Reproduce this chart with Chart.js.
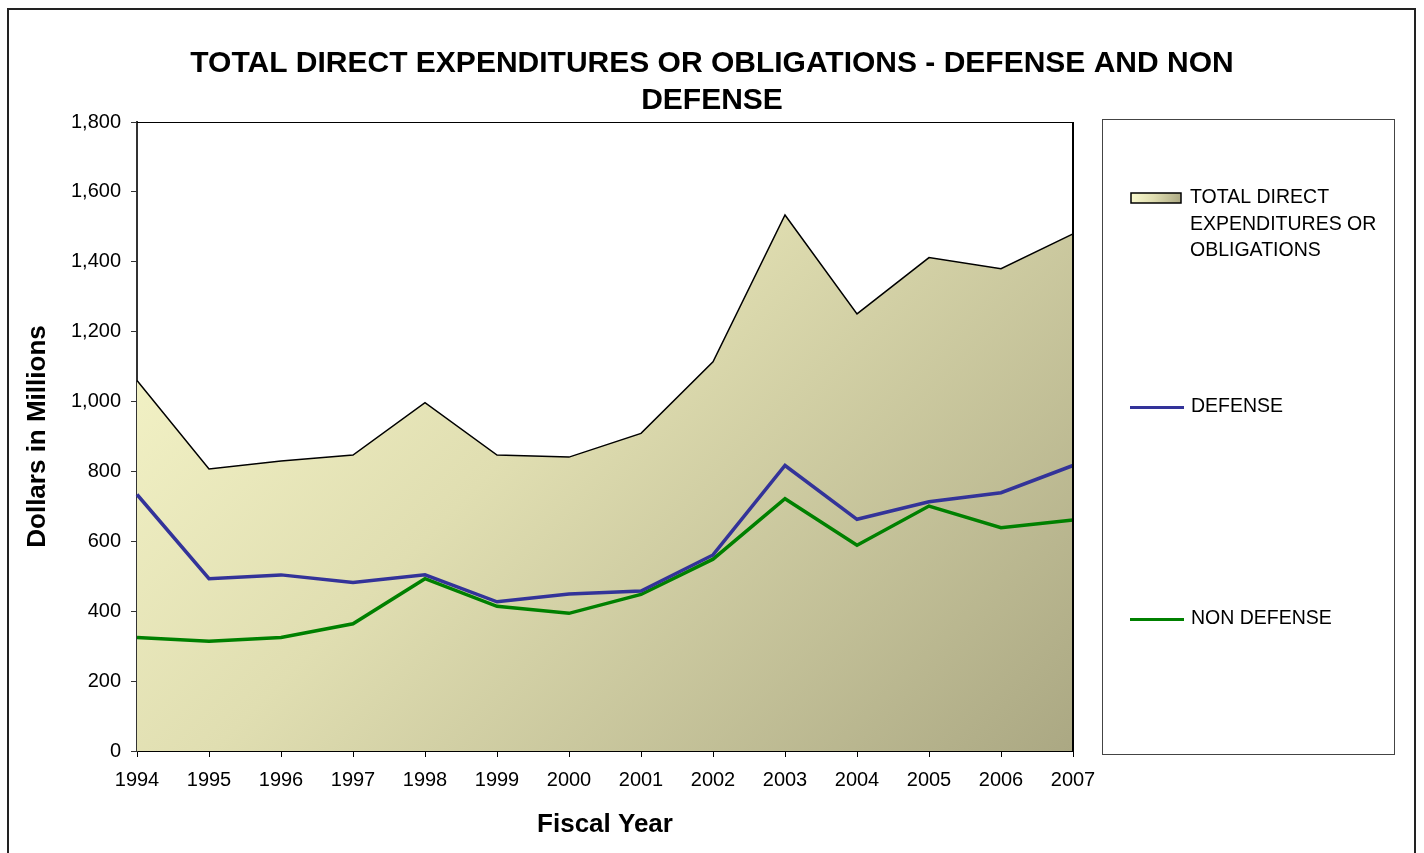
<!DOCTYPE html>
<html>
<head>
<meta charset="utf-8">
<script src="https://cdn.jsdelivr.net/npm/chart.js@4"></script>
<style>
  html, body { margin: 0; padding: 0; background: #fff; }
  #wrap { width: 1424px; height: 853px; }
</style>
</head>
<body>
<div id="wrap"><canvas id="chart" width="1424" height="853"></canvas></div>
<script>
const years = ['1994', '1995', '1996', '1997', '1998', '1999', '2000', '2001', '2002', '2003', '2004', '2005', '2006', '2007'];
const totalValues = [1060, 807, 830, 847, 997, 847, 841, 909, 1114, 1534, 1251, 1412, 1380, 1480];
const defenseValues = [734, 493, 504, 482, 504, 427, 449, 458, 561, 817, 663, 713, 739, 817];
const nonDefenseValues = [325, 314, 325, 364, 493, 414, 394, 448, 549, 722, 589, 701, 639, 661];
const seriesNames = ['TOTAL DIRECT EXPENDITURES OR OBLIGATIONS', 'DEFENSE', 'NON DEFENSE'];
const titleLines = ['TOTAL DIRECT EXPENDITURES OR OBLIGATIONS - DEFENSE AND NON', 'DEFENSE'];

const FONT = '"Liberation Sans", Arial, sans-serif';

function olive(ctx, x0, y0, x1, y1) {
    const g = ctx.createLinearGradient(x0, y0, x1, y1);
    g.addColorStop(0, '#fbfbcf');
    g.addColorStop(0.45, '#e0deb1');
    g.addColorStop(1, '#aba883');
    return g;
}

// outer frame, title, plot frame
const framePlugin = {
    id: 'frame',
    beforeDraw(chart) {
        const c = chart.ctx;
        c.save();
        c.strokeStyle = '#222';
        c.lineWidth = 2;
        c.strokeRect(8, 9, 1407, 860);
        c.fillStyle = '#000';
        c.font = 'bold 30px ' + FONT;
        c.textAlign = 'center';
        c.textBaseline = 'middle';
        titleLines.forEach((t, i) => c.fillText(t, 712, 64 + i * 37));
        c.restore();
    },
    afterDatasetsDraw(chart) {
        const a = chart.chartArea;
        const c = chart.ctx;
        c.save();
        c.strokeStyle = '#000';
        c.lineWidth = 1;
        c.beginPath();
        c.moveTo(a.left, a.top + 0.5);
        c.lineTo(a.right, a.top + 0.5);
        c.stroke();
        c.lineWidth = 2;
        c.beginPath();
        c.moveTo(a.right, a.top);
        c.lineTo(a.right, a.bottom);
        c.stroke();
        c.restore();
    }
};

// legend drawn in its own box on the right
const boxLegend = {
    id: 'boxLegend',
    afterDraw(chart) {
        const c = chart.ctx;
        c.save();
        c.strokeStyle = '#444';
        c.lineWidth = 1;
        c.strokeRect(1102.5, 119.5, 292, 635);
        c.font = '19.5px ' + FONT;
        c.fillStyle = '#000';
        c.textBaseline = 'middle';

        // total swatch
        c.fillStyle = olive(c, 1131, 193, 1181, 203);
        c.fillRect(1131, 193, 50, 10);
        c.strokeStyle = '#000';
        c.lineWidth = 1.5;
        c.strokeRect(1131, 193, 50, 10);
        c.fillStyle = '#000';
        ['TOTAL DIRECT', 'EXPENDITURES OR', 'OBLIGATIONS'].forEach((t, i) => {
            c.fillText(t, 1190, 198 + i * 26.5);
        });

        c.lineWidth = 3;
        c.strokeStyle = '#333399';
        c.beginPath(); c.moveTo(1130, 407.5); c.lineTo(1184, 407.5); c.stroke();
        c.fillText(seriesNames[1], 1191, 407);

        c.strokeStyle = '#008000';
        c.beginPath(); c.moveTo(1130, 619.5); c.lineTo(1184, 619.5); c.stroke();
        c.fillText(seriesNames[2], 1191, 619);
        c.restore();
    }
};

const ctx = document.getElementById('chart').getContext('2d');
new Chart(ctx, {
    type: 'line',
    data: {
        labels: years,
        datasets: [
            {
                label: seriesNames[1],
                data: defenseValues,
                borderColor: '#333399',
                borderWidth: 3.5,
                pointRadius: 0,
                fill: false,
                tension: 0,
                order: 1
            },
            {
                label: seriesNames[2],
                data: nonDefenseValues,
                borderColor: '#008000',
                borderWidth: 3.5,
                pointRadius: 0,
                fill: false,
                tension: 0,
                order: 2
            },
            {
                label: seriesNames[0],
                data: totalValues,
                borderColor: '#000',
                borderWidth: 1.5,
                pointRadius: 0,
                fill: 'origin',
                tension: 0,
                order: 3,
                backgroundColor: (context) => {
                    const a = context.chart.chartArea;
                    if (!a) return '#e0deb1';
                    // 45 degree gradient across the plot area
                    const d = (a.width + a.height) / 2;
                    return olive(context.chart.ctx, a.left, a.top, a.left + d, a.top + d);
                }
            }
        ]
    },
    options: {
        responsive: false,
        animation: false,
        layout: { padding: { left: 0, right: 351, top: 122, bottom: 0 } },
        plugins: {
            legend: { display: false },
            tooltip: { enabled: false },
            title: { display: false }
        },
        scales: {
            x: {
                offset: false,
                grid: { display: true, drawOnChartArea: false, drawTicks: true, tickLength: 6, color: '#000' },
                border: { display: true, color: '#000', width: 2 },
                ticks: { color: '#000', font: { family: FONT, size: 20 }, padding: 11, maxRotation: 0, autoSkip: false },
                title: {
                    display: true,
                    text: 'Fiscal Year',
                    color: '#000',
                    font: { family: FONT, size: 26, weight: 'bold', lineHeight: 1.2 },
                    padding: { top: 0, bottom: 13 }
                },
                afterFit(scale) { scale.height = 102; }
            },
            y: {
                min: 0,
                max: 1800,
                grid: { display: true, drawOnChartArea: false, drawTicks: true, tickLength: 6, color: '#333' },
                border: { display: true, color: '#333', width: 2 },
                ticks: {
                    stepSize: 200,
                    color: '#000',
                    font: { family: FONT, size: 20 },
                    padding: 10,
                    callback: (v) => v.toLocaleString('en-US')
                },
                title: {
                    display: true,
                    text: 'Dollars in Millions',
                    color: '#000',
                    font: { family: FONT, size: 26, weight: 'bold', lineHeight: 1.2 },
                    padding: { top: 22, bottom: 0 }
                },
                afterFit(scale) { scale.width = 137; }
            }
        }
    },
    plugins: [framePlugin, boxLegend]
});
</script>
</body>
</html>
